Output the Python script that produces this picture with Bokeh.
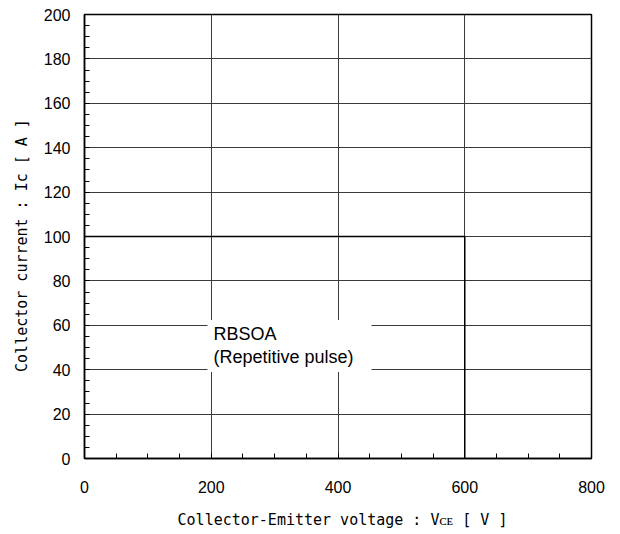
from bokeh.plotting import figure
from bokeh.models import Range1d, FixedTicker, Label
from bokeh.embed import file_html
from bokeh.resources import INLINE

# ---- data ----
x_ticks = [0, 200, 400, 600, 800]
y_ticks = [0, 20, 40, 60, 80, 100, 120, 140, 160, 180, 200]
x_minor = list(range(0, 801, 50))
y_minor = list(range(0, 201, 5))
rbsoa_vce = [0, 600, 600]
rbsoa_ic = [100, 100, 0]
x_title = "\u00a0Collector-Emitter voltage : V\u1d04\u1d07 [ V ]"
y_title = "Collector current : Ic [ A ]  "
note = "RBSOA\n(Repetitive pulse)"

p = figure(width=620, height=534, output_backend="svg", toolbar_location=None,
           x_range=Range1d(0, 800), y_range=Range1d(0, 200),
           min_border_left=84, min_border_right=29, min_border_top=14, min_border_bottom=76)
p.frame_width = 507
p.frame_height = 444
p.background_fill_color = "white"
p.border_fill_color = "white"
p.outline_line_color = "black"
p.outline_line_width = 1.5

p.xaxis.ticker = FixedTicker(ticks=x_ticks, minor_ticks=x_minor)
p.yaxis.ticker = FixedTicker(ticks=y_ticks, minor_ticks=y_minor)
p.xgrid.ticker = FixedTicker(ticks=x_ticks)
p.ygrid.ticker = FixedTicker(ticks=y_ticks)
for g in (p.xgrid, p.ygrid):
    g.grid_line_color = "#3a3a3a"
    g.grid_line_width = 1

for ax in (p.xaxis, p.yaxis):
    ax.axis_line_color = "black"
    ax.axis_line_width = 1.5
    ax.major_tick_in = 0
    ax.major_tick_out = 0
    ax.minor_tick_in = 5
    ax.minor_tick_out = 0
    ax.minor_tick_line_color = "black"
    ax.minor_tick_line_width = 1
    ax.major_label_text_font = "Liberation Sans"
    ax.major_label_text_font_size = "16px"
    ax.major_label_text_color = "black"
    ax.axis_label_text_font = "DejaVu Sans Mono"
    ax.axis_label_text_font_size = "15px"
    ax.axis_label_text_font_style = "normal"
    ax.axis_label_text_color = "black"

p.xaxis.axis_label = x_title
p.yaxis.axis_label = y_title
p.xaxis.major_label_standoff = 22
p.yaxis.major_label_standoff = 14
p.xaxis.axis_label_standoff = 15
p.yaxis.axis_label_standoff = 10

p.line(rbsoa_vce, rbsoa_ic, line_color="black", line_width=1.5)

lab = Label(x=194, y=39, x_units="data", y_units="data", text=note,
            anchor="bottom_left", text_font="Liberation Sans", text_font_size="18px",
            text_color="black", text_line_height=1.15,
            background_fill_color="white", background_fill_alpha=1.0,
            padding=dict(left=6, right=18, top=4, bottom=5))
p.add_layout(lab)

open("out.html", "w").write(file_html(p, INLINE))
